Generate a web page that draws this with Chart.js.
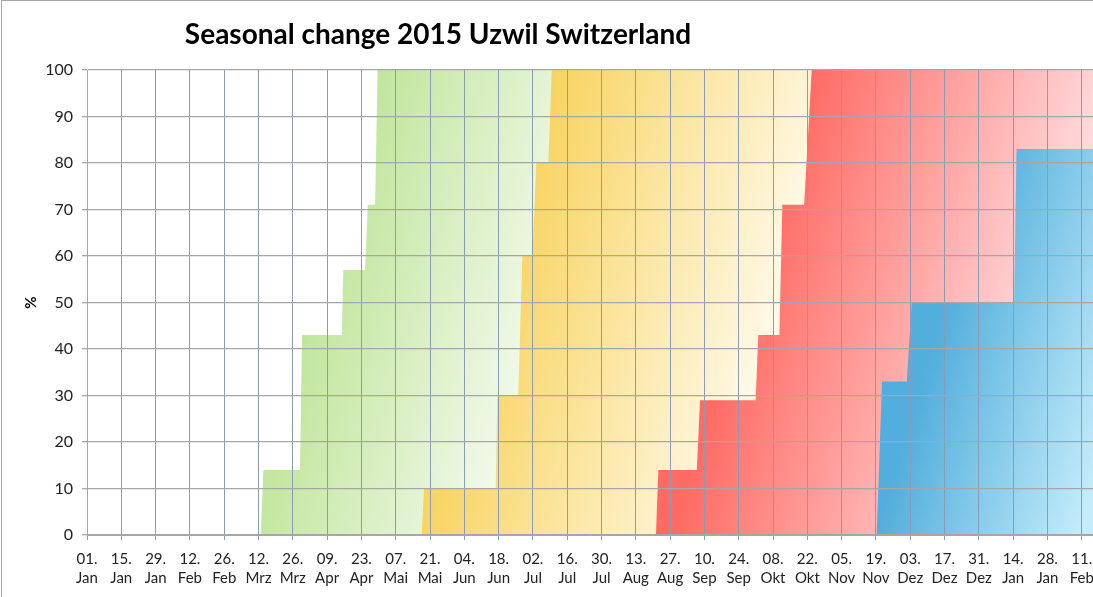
<!DOCTYPE html>
<html lang="de">
<head>
  <meta charset="UTF-8" />
  <title>Seasonal change 2015 Uzwil Switzerland</title>
  <script src="https://cdn.jsdelivr.net/npm/chart.js"></script>
  <style>
    body { margin: 0; background: #fff; font-family: Lato, 'Open Sans', sans-serif; }
    #wrap { position: absolute; left: 0; top: 0; width: 1093px; height: 597px; overflow: hidden; }
    #frame { position: absolute; left: 1px; top: 0; width: 1200px; height: 700px; border: 1px solid #a6a6a6; pointer-events: none; }
    #title { position: absolute; left: 138px; top: 16px; width: 600px; text-align: center;
             font: bold 28px Lato, sans-serif; color: #000; }
  </style>
</head>
<body>
  <div id="wrap">
    <canvas id="chart"></canvas>
    <div id="title">Seasonal change 2015 Uzwil Switzerland</div>
    <div id="frame"></div>
  </div>

  <script>
    // x = days since 01. Jan 2015, y = percent
    const tickLabels = ['01. Jan', '15. Jan', '29. Jan', '12. Feb', '26. Feb', '12. Mrz', '26. Mrz', '09. Apr',
      '23. Apr', '07. Mai', '21. Mai', '04. Jun', '18. Jun', '02. Jul', '16. Jul', '30. Jul', '13. Aug',
      '27. Aug', '10. Sep', '24. Sep', '08. Okt', '22. Okt', '05. Nov', '19. Nov', '03. Dez', '17. Dez',
      '31. Dez', '14. Jan', '28. Jan', '11. Feb'];

    const springDay = [0, 70.9, 72, 86.9, 87.8, 104, 104.6, 113.5, 114.6, 117.6, 118.6, 411];
    const springPct = [0, 0, 14, 14, 43, 43, 57, 57, 71, 71, 100, 100];

    const summerDay = [0, 136.6, 137.6, 166.8, 167.5, 176, 177.7, 181.8, 183.4, 188.3, 189.7, 411];
    const summerPct = [0, 0, 10, 10, 30, 30, 60, 60, 80, 80, 100, 100];

    const autumnDay = [0, 232.2, 233.2, 248.9, 250.2, 272.9, 274, 282.6, 283.8, 292.7, 295.8, 411];
    const autumnPct = [0, 0, 14, 14, 29, 29, 43, 43, 71, 71, 100, 100];

    const winterDay = [0, 322.3, 324.5, 334.6, 336.6, 378.4, 379.4, 411];
    const winterPct = [0, 0, 33, 33, 50, 50, 83, 83];

    const pts = (days, pct) => days.map((d, i) => ({ x: d, y: pct[i] }));

    // diagonal gradient, strong at dayA (top edge), pale at dayB
    function grad(dayA, dayB, c0, c1) {
      return function (ctx) {
        const chart = ctx.chart;
        const area = chart.chartArea;
        if (!area) return c0;
        const xs = chart.scales.x;
        const xa = xs.getPixelForValue(dayA);
        const L = (xs.getPixelForValue(dayB) - xa) / 1.09;
        const g = chart.ctx.createLinearGradient(xa, area.top, xa + L, area.top + 0.3 * L);
        g.addColorStop(0, c0);
        g.addColorStop(1, c1);
        return g;
      };
    }

    const base = { fill: 'origin', borderWidth: 0, pointRadius: 0, tension: 0 };

    new Chart(document.getElementById('chart'), {
      type: 'line',
      data: {
        datasets: [
          { ...base, label: 'Frühling', order: 4, data: pts(springDay, springPct),
            backgroundColor: grad(117, 226, '#bfe59a', '#f6fbf1') },
          { ...base, label: 'Sommer', order: 3, data: pts(summerDay, summerPct),
            backgroundColor: grad(189, 315, '#f8d35e', '#fffaeb') },
          { ...base, label: 'Herbst', order: 2, data: pts(autumnDay, autumnPct),
            backgroundColor: grad(296, 425, '#ff6b64', '#ffdfe2') },
          { ...base, label: 'Winter', order: 1, data: pts(winterDay, winterPct),
            backgroundColor: grad(379, 462, '#52aedc', '#c4ecfb') }
        ]
      },
      options: {
        responsive: true,
        maintainAspectRatio: false,
        animation: false,
        layout: { padding: { top: 70, right: 0, bottom: 0, left: 0 } },
        plugins: { legend: { display: false }, tooltip: { enabled: false } },
        scales: {
          x: {
            type: 'linear', min: 0, max: 410.6,
            afterBuildTicks: s => { s.ticks = tickLabels.map((_, i) => ({ value: i * 14 })); },
            afterFit: s => { s.height = 62; s.paddingLeft = 0; s.paddingRight = 0; },
            grid: { color: '#8a9cb5', lineWidth: 1, tickLength: 5, z: 1 },
            border: { color: '#a6a6a6', z: 1 },
            ticks: {
              autoSkip: false, maxRotation: 0, padding: 9, color: '#222',
              font: { family: 'Lato', size: 15, lineHeight: 1.3 },
              callback: v => tickLabels[Math.round(v / 14)].split(' ')
            }
          },
          y: {
            min: 0, max: 100,
            afterFit: s => { s.width = 87; },
            grid: { color: '#a6a6a6', lineWidth: 1.3, tickLength: 5, z: 1 },
            border: { color: '#a6a6a6', z: 1 },
            ticks: { stepSize: 10, padding: 9, color: '#222', font: { family: 'Lato', size: 16 } },
            title: { display: true, text: '%', color: '#000', font: { family: 'Lato', size: 15, weight: 'bold' },
                     padding: { top: 22, bottom: 0 } }
          }
        }
      }
    });
  </script>
</body>
</html>
